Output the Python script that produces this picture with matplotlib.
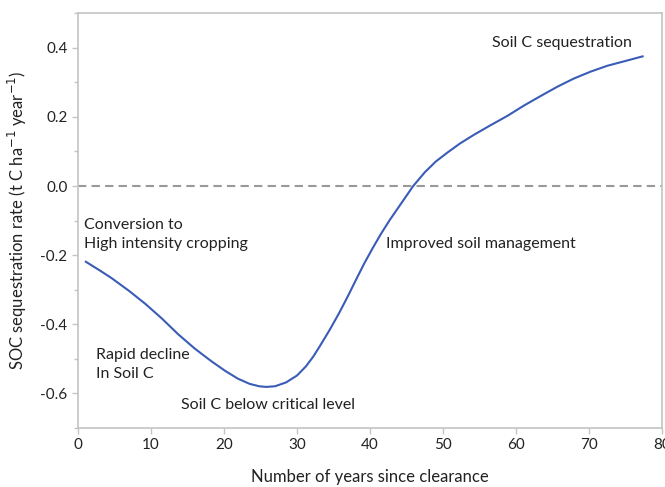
import matplotlib
matplotlib.use('Agg')
import matplotlib.pyplot as plt
from matplotlib.ticker import MultipleLocator

# values
years = [1.1, 3.0, 4.6, 7.0, 9.2, 11.5, 13.7, 16.0, 18.3, 20.2, 21.9, 23.5,
         24.8, 25.8, 27.0, 28.5, 30.0, 31.2, 32.2, 33.1, 34.5, 35.8, 37.0,
         38.1, 39.2, 40.4, 41.5, 42.7, 44.3, 45.9, 47.5, 49.0, 50.6, 52.3,
         54.2, 56.5, 58.8, 61.0, 63.4, 65.7, 67.9, 70.2, 72.5, 75.0, 77.3]
soc_rate = [-0.219, -0.244, -0.266, -0.303, -0.340, -0.383, -0.428, -0.470,
            -0.507, -0.535, -0.557, -0.572, -0.579, -0.581, -0.579, -0.568,
            -0.548, -0.522, -0.494, -0.464, -0.415, -0.366, -0.317, -0.270,
            -0.224, -0.178, -0.138, -0.098, -0.049, 0.0, 0.040, 0.071, 0.097,
            0.123, 0.148, 0.176, 0.203, 0.232, 0.261, 0.288, 0.311, 0.331,
            0.348, 0.362, 0.375]

annotations = [
  ('Soil C sequestration', 66.2, 0.414, 'center'),
  ('Conversion to\nHigh intensity cropping', 0.9, -0.14, 'left'),
  ('Improved soil management', 42.2, -0.168, 'left'),
  ('Rapid decline\nIn Soil C', 2.5, -0.516, 'left'),
  ('Soil C below critical level', 14.1, -0.632, 'left'),
]

plt.rcParams['font.family'] = ['Lato', 'DejaVu Sans']
text_color = '#222222'
spine_color = '#c4c4c4'

fig = plt.figure(figsize=(6.65, 4.87), dpi=100)
ax = fig.add_axes([0.117, 0.121, 0.879, 0.852])

ax.axhline(0, color='#999999', lw=1.5, ls=(0, (4, 2.5)), zorder=1)
ax.plot(years, soc_rate, color='#3a5cb7', lw=1.5, zorder=2)

for txt, x, y, ha in annotations:
  ax.text(x, y, txt, ha=ha, va='center', fontsize=11.5, color=text_color,
          linespacing=1.5)

ax.set_xlim(0, 80)
ax.set_ylim(-0.7, 0.5)
ax.xaxis.set_major_locator(MultipleLocator(10))
ax.yaxis.set_minor_locator(MultipleLocator(0.1))
ax.set_yticks([-0.6, -0.4, -0.2, 0.0, 0.2, 0.4])
ax.set_yticklabels(['-0.6', '-0.4', '-0.2', '0.0', '0.2', '0.4'])

for s in ax.spines.values():
  s.set_color(spine_color)
  s.set_linewidth(1.2)
ax.tick_params(which='both', colors=spine_color, labelcolor=text_color,
               labelsize=11, width=1)
ax.tick_params(which='major', length=4)
ax.tick_params(which='minor', length=3)

ax.set_xlabel('Number of years since clearance', fontsize=12, color=text_color,
              labelpad=12)
ax.set_ylabel('SOC sequestration rate (t C ha$^{-1}$ year$^{-1}$)', fontsize=12,
              color=text_color, labelpad=8)

plt.savefig('out.png', dpi=100)
